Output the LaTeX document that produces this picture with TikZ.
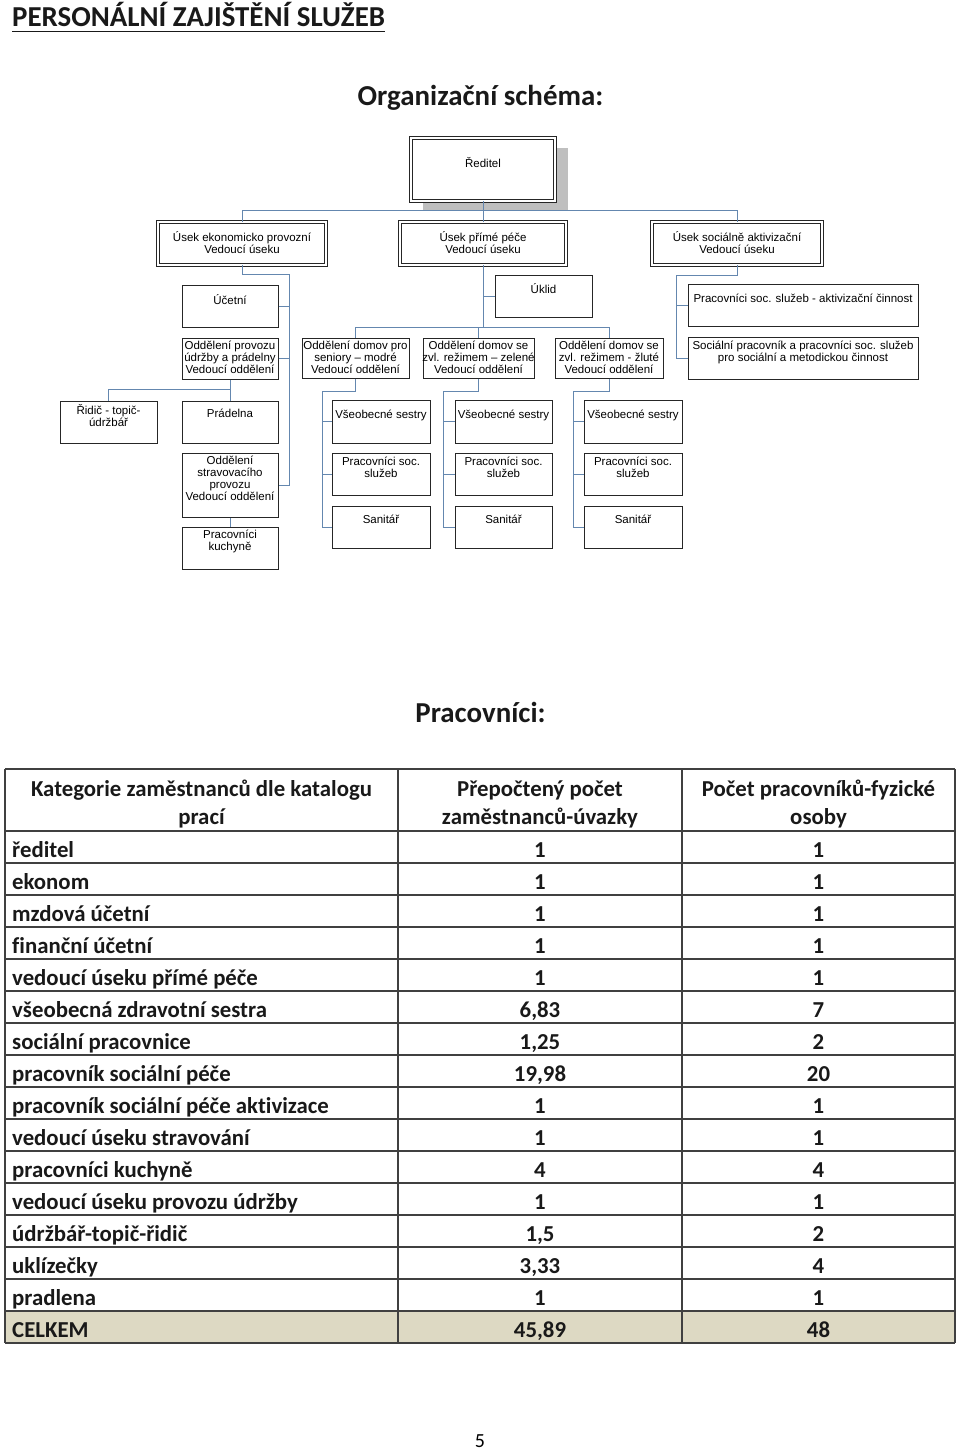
\documentclass[tikz,border=0pt]{standalone}
\usepackage{fontspec}
\setmainfont{Carlito}[Ligatures=NoCommon]
\newfontfamily\arialf{Liberation Sans}
\definecolor{connc}{RGB}{100,135,175}
\definecolor{totc}{RGB}{221,217,195}
\tikzset{
  obx/.style={draw=black!85, line width=1pt, fill=white, inner sep=0pt},
  dbx/.style={draw=black!85, double=white, double distance=1.6pt, line width=0.85pt, fill=white, inner sep=0pt},
  otxt/.style={font=\arialf\fontsize{11.5}{12}\selectfont, align=center, inner sep=0pt, anchor=north, text=black},
  conn/.style={draw=connc, line width=0.9pt},
  tline/.style={draw=black!75, line width=1.4pt},
  ttxt/.style={font=\bfseries\fontsize{22.8}{28}\selectfont, inner sep=0pt, text=black!90},
  head/.style={font=\bfseries\fontsize{28.9}{34}\selectfont, inner sep=0pt, text=black!90},
}
\newcommand\obox[8]{%
  \node[#1, minimum width={(#5-#3)*1pt}, minimum height={(#6-#4)*1pt}] (#2) at ({(#3+#5)/2},{(#4+#6)/2}) {};
  \node[otxt] (#2t) at ({(#3+#5)/2},{#8-4.7}) {#7};}
\begin{document}
\begin{tikzpicture}[x=1pt,y=-1pt]
\useasboundingbox (0,0) rectangle (960,1450);
% headings
\node[head, anchor=base west] (title) at (12,27) {PERSONÁLNÍ ZAJIŠTĚNÍ SLUŽEB};
\draw[line width=1.3pt, black!90] ([yshift=-4.5pt]title.base west) -- ([yshift=-4.5pt]title.base east);
\node[head, anchor=base] (org) at (480.5,106) {Organizační schéma:};
\node[head, anchor=base] (prac) at (480.5,722) {Pracovníci:};
% org chart
\fill[black!25] (423,148) rectangle (568,210);
\obox{dbx}{reditel}{411}{138}{555}{201}{Ředitel}{162}
\obox{dbx}{u1}{158}{222}{326}{265}{Úsek  ekonomicko provozní\\Vedoucí úseku}{236}
\obox{dbx}{u2}{400}{222}{566}{265}{Úsek přímé péče\\Vedoucí úseku}{236}
\obox{dbx}{u3}{652}{222}{822}{265}{Úsek sociálně aktivizační\\Vedoucí úseku}{236}
\obox{obx}{ucetni}{182}{285}{278}{327}{Účetní}{299}
\obox{obx}{provoz}{182}{338}{278}{379}{Oddělení provozu\\údržby a prádelny\\Vedoucí oddělení}{346}
\obox{obx}{stravov}{182}{453}{278}{517}{Oddělení\\stravovacího\\provozu\\Vedoucí oddělení}{461}
\obox{obx}{kuchyne}{182}{527}{278}{569}{Pracovníci\\kuchyně}{535}
\obox{obx}{ridic}{60}{401}{157}{443}{Řidič - topič-\\údržbář}{409}
\obox{obx}{pradelna}{182}{401}{278}{443}{Prádelna}{414}
\obox{obx}{uklid}{495}{275}{592}{317}{Úklid}{288}
\obox{obx}{d1}{302}{338}{409}{378}{Oddělení domov pro\\seniory – modré\\Vedoucí oddělení}{346}
\obox{obx}{d2}{423}{338}{534}{378}{Oddělení domov se\\zvl. režimem – zelené\\Vedoucí oddělení}{346}
\obox{obx}{d3}{555}{338}{663}{378}{Oddělení domov se\\zvl. režimem - žluté\\Vedoucí oddělení}{346}
\obox{obx}{ses1}{332}{400}{430}{443}{Všeobecné sestry}{415}
\obox{obx}{soc1}{332}{453}{430}{495}{Pracovníci soc.\\služeb}{462}
\obox{obx}{san1}{332}{506}{430}{548}{Sanitář}{520}
\obox{obx}{ses2}{455}{400}{552}{443}{Všeobecné sestry}{415}
\obox{obx}{soc2}{455}{453}{552}{495}{Pracovníci soc.\\služeb}{462}
\obox{obx}{san2}{455}{506}{552}{548}{Sanitář}{520}
\obox{obx}{ses3}{584}{400}{682}{443}{Všeobecné sestry}{415}
\obox{obx}{soc3}{584}{453}{682}{495}{Pracovníci soc.\\služeb}{462}
\obox{obx}{san3}{584}{506}{682}{548}{Sanitář}{520}
\obox{obx}{akt}{688}{284}{918}{326}{Pracovníci soc. služeb - aktivizační činnost}{299}
\obox{obx}{socprac}{688}{337}{918}{379}{Sociální pracovník a pracovníci soc. služeb\\pro sociální a metodickou činnost}{346}
% connectors
\draw[conn] (reditel.south) -- (u2.north);
\draw[conn] (u1.north) -- ++(0,-11) -| (u3.north);
\coordinate (lsp) at (289,485);
\draw[conn] (u1.south) -- ++(0,9) -| (lsp) -- (stravov.east);
\draw[conn] (ucetni.east) -- (ucetni.east -| lsp);
\draw[conn] (provoz.east) -- (provoz.east -| lsp);
\draw[conn] (provoz.south) -- (pradelna.north);
\draw[conn] (provoz.south) ++(0,10) -| (ridic.north);
\draw[conn] (stravov.south) -- (kuchyne.north);
\coordinate (mh) at (483,328);
\draw[conn] (u2.south) -- (mh);
\draw[conn] (uklid.west) -- (uklid.west -| mh);
\draw[conn] (d1.north) -- ++(0,-10) -| (d3.north);
\draw[conn] (d2.north) -- ++(0,-10);
\coordinate (s1) at (322,527);
\coordinate (s2) at (443,527);
\coordinate (s3) at (573,527);
\foreach \k in {1,2,3}{
  \draw[conn] (d\k.south) -- ++(0,13) -| (s\k) -- (san\k.west);
  \draw[conn] (ses\k.west) -- (ses\k.west -| s\k);
  \draw[conn] (soc\k.west) -- (soc\k.west -| s\k);
}
\coordinate (r1) at (676,358);
\draw[conn] (u3.south) -- ++(0,10) -| (r1) -- (socprac.west);
\draw[conn] (akt.west) -- (akt.west -| r1);
% table
\fill[totc] (5,1311) rectangle (955,1343);
\foreach \yy in {769,831,863,895,927,959,991,1023,1055,1087,1119,1151,1183,1215,1247,1279,1311,1343}
  \draw[tline] (5,\yy) -- (955,\yy);
\foreach \xx in {5,398,682,955}
  \draw[tline] (\xx,769) -- (\xx,1343);
\node[ttxt, align=center] (h1) at (201.5,804) {Kategorie zaměstnanců dle katalogu\\prací};
\node[ttxt, align=center] (h2) at (540,804) {Přepočtený počet\\zaměstnanců-úvazky};
\node[ttxt, align=center] (h3) at (818.5,804) {Počet pracovníků-fyzické\\osoby};
\foreach \n/\a/\b [count=\i from 0] in {
  {ředitel}/{1}/{1},
  {ekonom}/{1}/{1},
  {mzdová účetní}/{1}/{1},
  {finanční účetní}/{1}/{1},
  {vedoucí úseku přímé péče}/{1}/{1},
  {všeobecná zdravotní sestra}/{6,83}/{7},
  {sociální pracovnice}/{1,25}/{2},
  {pracovník sociální péče}/{19,98}/{20},
  {pracovník sociální péče aktivizace}/{1}/{1},
  {vedoucí úseku stravování}/{1}/{1},
  {pracovníci kuchyně}/{4}/{4},
  {vedoucí úseku provozu údržby}/{1}/{1},
  {údržbář-topič-řidič}/{1,5}/{2},
  {uklízečky}/{3,33}/{4},
  {pradlena}/{1}/{1},
  {CELKEM}/{45,89}/{48}}{
  \node[ttxt, anchor=base west] (c1r\i) at (12,{857+32*\i}) {\n};
  \node[ttxt, anchor=base] (c2r\i) at (540,{857+32*\i}) {\a};
  \node[ttxt, anchor=base] (c3r\i) at (818.5,{857+32*\i}) {\b};
}
\node[font=\fontsize{20}{24}\selectfont, inner sep=0pt, anchor=base] (pg) at (480,1447) {5};
\end{tikzpicture}
\end{document}
